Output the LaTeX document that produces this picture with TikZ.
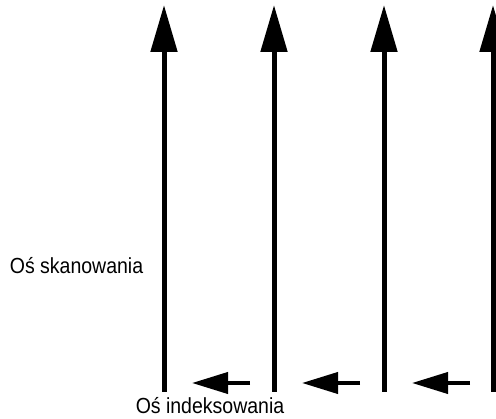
\documentclass[tikz,border=0pt]{standalone}
\usepackage{fontspec}
\usepackage{graphicx}
\setmainfont{Liberation Sans}
\usetikzlibrary{arrows.meta}
\newcommand{\tallcaption}[1]{\scalebox{1}[1.12]{#1}}
\begin{document}
\begin{tikzpicture}[x=1pt,y=-1pt,
  scanpass/.style={line width=5pt,-{Triangle[length=47pt,width=26pt]}},
  indexstep/.style={line width=4pt,-{Triangle[length=36pt,width=21pt]}},
  axislabel/.style={font=\fontsize{19.5}{23}\selectfont,inner sep=0pt}]
\useasboundingbox (0,0) rectangle (496,419);
% scan passes (bottom to top)
\foreach \i/\x in {1/164,2/274,3/384,4/493}{
  \coordinate (b\i) at (\x,392);
  \coordinate (t\i) at (\x,5);
  \draw[scanpass] (b\i) -- (t\i);
}
% index steps between passes (right to left)
\foreach \i/\x in {1/250,2/360,3/470}{
  \coordinate (s\i) at (\x,383);
  \coordinate (e\i) at (\x-58,383);
  \draw[indexstep] (s\i) -- (e\i);
}
\node[axislabel] (scan) at (76.5,266) {\tallcaption{Oś skanowania}};
\node[axislabel] (index) at (210,406) {\tallcaption{Oś indeksowania}};
\end{tikzpicture}
\end{document}
